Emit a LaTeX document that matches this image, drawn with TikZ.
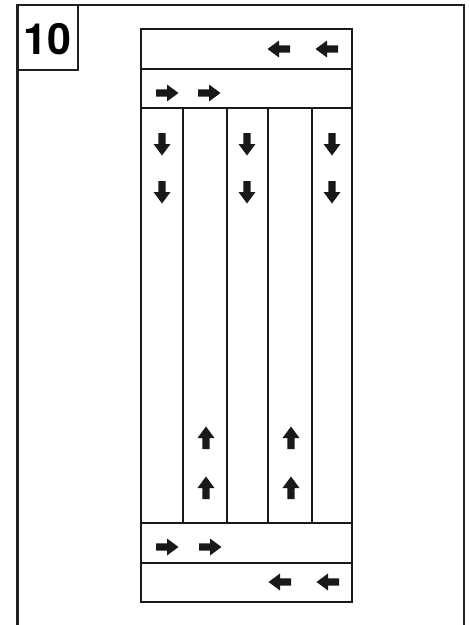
\documentclass[tikz,border=0pt]{standalone}
\usepackage{fontspec}
\setmainfont{TeX Gyre Heros}
\begin{document}
\begin{tikzpicture}[x=1pt,y=-1pt,
  frameline/.style={draw=black!88, line width=2.2pt},
  boardline/.style={draw=black!90, line width=1.4pt},
  arrfill/.style={fill=black!90, draw=none},
  pics/arrR/.style={code={\fill[arrfill] (-11,-3.7) -- (0,-3.7) -- (0,-8.5) -- (11.5,0) -- (0,8.5) -- (0,3.7) -- (-11,3.7) -- cycle;}},
  pics/arrL/.style={code={\fill[arrfill] (11,-3.7) -- (0,-3.7) -- (0,-8.5) -- (-11.5,0) -- (0,8.5) -- (0,3.7) -- (11,3.7) -- cycle;}},
  pics/arrD/.style={code={\fill[arrfill] (-3.7,-11) -- (-3.7,0) -- (-8.5,0) -- (0,11.5) -- (8.5,0) -- (3.7,0) -- (3.7,-11) -- cycle;}},
  pics/arrU/.style={code={\fill[arrfill] (-3.7,11) -- (-3.7,0) -- (-8.5,0) -- (0,-11.5) -- (8.5,0) -- (3.7,0) -- (3.7,11) -- cycle;}}
]
\useasboundingbox (0,0) rectangle (470,625);
% outer frame (open at bottom)
\draw[frameline] (17.5,627) -- (17.5,5) -- (464,5) -- (464,627);
% label box
\draw[frameline] (17.5,5) rectangle (78,70);
\node[font=\bfseries\fontsize{43}{43}\selectfont, inner sep=0pt] (num) at (47.5,39) {10};
% board
\coordinate (tl) at (141,29);
\coordinate (br) at (352,602);
\draw[boardline] (tl) rectangle (br);
\draw[boardline] (141,69) -- (352,69);
\draw[boardline] (141,108) -- (352,108);
\draw[boardline] (141,523) -- (352,523);
\draw[boardline] (141,563) -- (352,563);
\foreach \xx in {183,227,268,312} {
  \draw[boardline] (\xx,108) -- (\xx,523);
}
% arrows
\pic at (279,49) {arrL};
\pic at (327,49) {arrL};
\pic at (167,93) {arrR};
\pic at (209,93) {arrR};
\foreach \xx in {162,247,332} {
  \pic at (\xx,144) {arrD};
  \pic at (\xx,192) {arrD};
}
\foreach \xx in {206,291} {
  \pic at (\xx,438) {arrU};
  \pic at (\xx,488) {arrU};
}
\pic at (167,547) {arrR};
\pic at (210,547) {arrR};
\pic at (280,582) {arrL};
\pic at (328,582) {arrL};
\end{tikzpicture}
\end{document}
